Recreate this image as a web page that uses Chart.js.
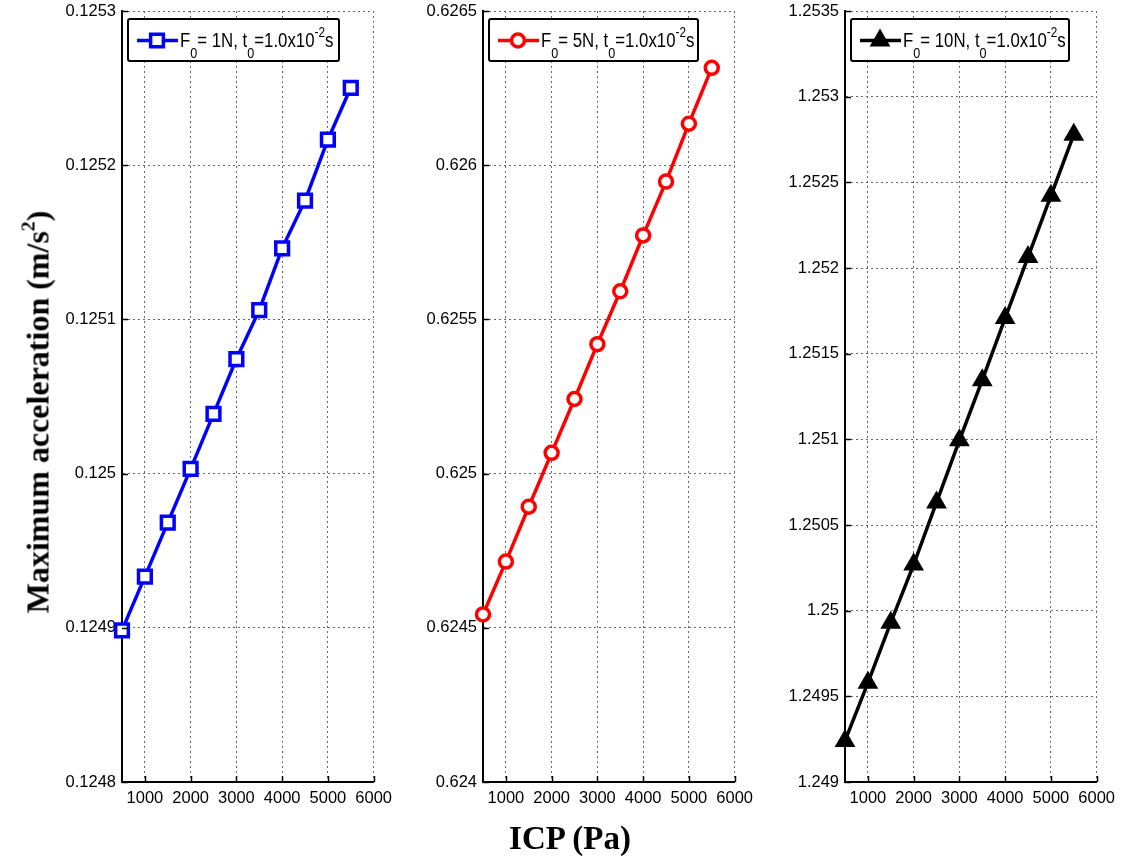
<!DOCTYPE html>
<html><head><meta charset="utf-8">
<script src="https://cdn.jsdelivr.net/npm/chart.js@4/dist/chart.umd.min.js"></script>
<style>
html,body{margin:0;padding:0;background:#fff}
body{width:1129px;height:859px;position:relative;overflow:hidden;font-family:"Liberation Serif","Times New Roman",serif}
.pane{position:absolute}
#ylab{position:absolute;left:38px;top:412px;transform:translate(-50%,-50%) rotate(-90deg);font-weight:bold;font-size:32px;white-space:nowrap}
#xlab{position:absolute;left:570px;top:838px;transform:translate(-50%,-50%);font-weight:bold;font-size:33px;white-space:nowrap}
sup{font-size:0.62em;vertical-align:0.7em;line-height:0}
</style></head><body>
<div class="pane" id="p1"><canvas id="c1"></canvas></div>
<div class="pane" id="p2"><canvas id="c2"></canvas></div>
<div class="pane" id="p3"><canvas id="c3"></canvas></div>
<div id="ylab">Maximum acceleration (m/s<sup>2</sup>)</div>
<div id="xlab">ICP (Pa)</div>
<script>
// ---- data ----
const icp = [500, 1000, 1500, 2000, 2500, 3000, 3500, 4000, 4500, 5000, 5500];
const accel1N = [0.1248983, 0.1249332, 0.1249682, 0.1250031, 0.1250387, 0.1250743, 0.1251060, 0.1251461, 0.1251771, 0.1252166, 0.1252502];
const accel5N = [0.6245433, 0.6247147, 0.6248926, 0.6250673, 0.6252419, 0.6254198, 0.6255912, 0.6257723, 0.6259469, 0.6261345, 0.6263157];
const accel10N = [1.2492398, 1.249579, 1.24993, 1.250269, 1.250632, 1.250994, 1.251345, 1.251708, 1.252064, 1.252421, 1.252778];
const xTicks = ['1000', '2000', '3000', '4000', '5000', '6000'];
const yTicks1N = ['0.1248', '0.1249', '0.125', '0.1251', '0.1252', '0.1253'];
const yTicks5N = ['0.624', '0.6245', '0.625', '0.6255', '0.626', '0.6265'];
const yTicks10N = ['1.249', '1.2495', '1.25', '1.2505', '1.251', '1.2515', '1.252', '1.2525', '1.253', '1.2535'];
const legend1N = [['F'], ['0', 'sub'], ['= 1N, t'], ['0', 'sub'], ['=1.0x10'], ['-2', 'sup'], ['s']];
const legend5N = [['F'], ['0', 'sub'], ['= 5N, t'], ['0', 'sub'], ['=1.0x10'], ['-2', 'sup'], ['s']];
const legend10N = [['F'], ['0', 'sub'], ['= 10N, t'], ['0', 'sub'], ['=1.0x10'], ['-2', 'sup'], ['s']];

const FONT = '"Liberation Sans",Arial,sans-serif';
const AXW = 70, AXH = 40, PADR = 25, TOPOFF = -10, PADT = 21, BOTTOM = 782;

const panels = [
  {id: 'c1', pane: 'p1', L: 122, R: 374, data: accel1N, yt: yTicks1N, color: '#0000ff', ps: 'rect', r: 9, bw: 3.5, fillPt: '#fff', leg: legend1N, legW: 211},
  {id: 'c2', pane: 'p2', L: 483, R: 735, data: accel5N, yt: yTicks5N, color: '#ff0000', ps: 'circle', r: 6.5, bw: 3.5, fillPt: '#fff', leg: legend5N, legW: 209},
  {id: 'c3', pane: 'p3', L: 845, R: 1097, data: accel10N, yt: yTicks10N, color: '#000000', ps: 'triangle', r: 9, bw: 3, fillPt: '#000', leg: legend10N, legW: 218}
];

const decor = {
  id: 'decor',
  afterDraw(chart) {
    const o = chart.options.plugins.decor;
    const {ctx, chartArea: a, scales: {x, y}} = chart;
    ctx.save();
    ctx.strokeStyle = '#000'; ctx.lineWidth = 1.5; ctx.setLineDash([]);
    y.ticks.forEach(t => { const py = Math.round(y.getPixelForValue(t.value)) + 0.5; ctx.beginPath(); ctx.moveTo(a.left, py); ctx.lineTo(a.left + 6, py); ctx.stroke(); });
    x.ticks.forEach(t => { const px = Math.round(x.getPixelForValue(t.value)) + 0.5; ctx.beginPath(); ctx.moveTo(px, a.bottom); ctx.lineTo(px, a.bottom - 6); ctx.stroke(); });
    // legend box
    const bx = a.left + 6, by = 19 - TOPOFF, bw = o.width, bh = 42;
    ctx.fillStyle = '#fff'; ctx.strokeStyle = '#000'; ctx.lineWidth = 2;
    ctx.beginPath(); ctx.roundRect(bx, by, bw, bh, 2); ctx.fill(); ctx.stroke();
    const sy = by + 21.5;
    ctx.strokeStyle = o.color; ctx.lineWidth = 3.5;
    ctx.beginPath(); ctx.moveTo(bx + 9, sy); ctx.lineTo(bx + 50, sy); ctx.stroke();
    ctx.fillStyle = o.fillPt; ctx.lineWidth = o.bw;
    Chart.helpers.drawPoint(ctx, {pointStyle: o.ps, radius: o.r, rotation: 0, borderWidth: o.bw}, bx + 29, sy);
    // text runs (slightly condensed, like the original Helvetica rendering)
    let tx = bx + 52; const base = by + 28; const sx = 0.84;
    ctx.fillStyle = '#000'; ctx.textBaseline = 'alphabetic'; ctx.textAlign = 'left';
    o.runs.forEach(([t, k]) => {
      let size = 20, dy = 0;
      if (k === 'sub') { size = 15; dy = 11; }
      if (k === 'sup') { size = 14; dy = -10; }
      ctx.font = size + 'px ' + FONT;
      ctx.save(); ctx.translate(tx, base + dy); ctx.scale(sx, 1);
      ctx.fillText(t, 0, 0); ctx.restore();
      tx += ctx.measureText(t).width * sx;
    });
    ctx.restore();
  }
};

panels.forEach(p => {
  const pane = document.getElementById(p.pane);
  const w = (p.R - p.L) + AXW + PADR, h = (BOTTOM - TOPOFF) + AXH;
  pane.style.left = (p.L - AXW) + 'px'; pane.style.top = TOPOFF + 'px';
  pane.style.width = w + 'px'; pane.style.height = h + 'px';
  const cv = document.getElementById(p.id); cv.width = w; cv.height = h;
  const yv = p.yt.map(Number);
  new Chart(cv, {
    type: 'line',
    data: {
      labels: icp,
      datasets: [{
        data: icp.map((v, i) => ({x: v, y: p.data[i]})),
        borderColor: p.color, borderWidth: 3.5, pointStyle: p.ps, pointRadius: p.r,
        pointBorderColor: p.color, pointBackgroundColor: p.fillPt, pointBorderWidth: p.bw,
        pointHoverRadius: p.r, tension: 0, clip: false, fill: false
      }]
    },
    options: {
      responsive: false, animation: false, devicePixelRatio: 1,
      layout: {padding: {top: PADT, right: PADR, left: 0, bottom: 0}},
      plugins: {legend: {display: false}, tooltip: {enabled: false},
        decor: {width: p.legW, color: p.color, ps: p.ps, r: p.r, bw: p.bw, fillPt: p.fillPt, runs: p.leg}},
      scales: {
        x: {
          type: 'linear', min: 500, max: 6000,
          afterBuildTicks: s => { s.ticks = xTicks.map(v => ({value: Number(v)})); },
          afterFit: s => { s.height = AXH; },
          ticks: {callback: (v, i) => xTicks[i], color: '#000', font: {family: FONT, size: 16.5}, padding: 7, maxRotation: 0, autoSkip: false},
          grid: {color: '#666', lineWidth: 1, drawTicks: false},
          border: {display: true, color: '#000', width: 2, dash: [2, 3]}
        },
        y: {
          type: 'linear', min: yv[0], max: yv[yv.length - 1],
          afterBuildTicks: s => { s.ticks = yv.map(v => ({value: v})); },
          afterFit: s => { s.width = AXW; },
          ticks: {callback: (v, i) => p.yt[i], color: '#000', font: {family: FONT, size: 16.5}, padding: 6, autoSkip: false},
          grid: {color: '#666', lineWidth: 1, drawTicks: false},
          border: {display: true, color: '#000', width: 2, dash: [2, 3]}
        }
      }
    },
    plugins: [decor]
  });
});
</script>
</body></html>
